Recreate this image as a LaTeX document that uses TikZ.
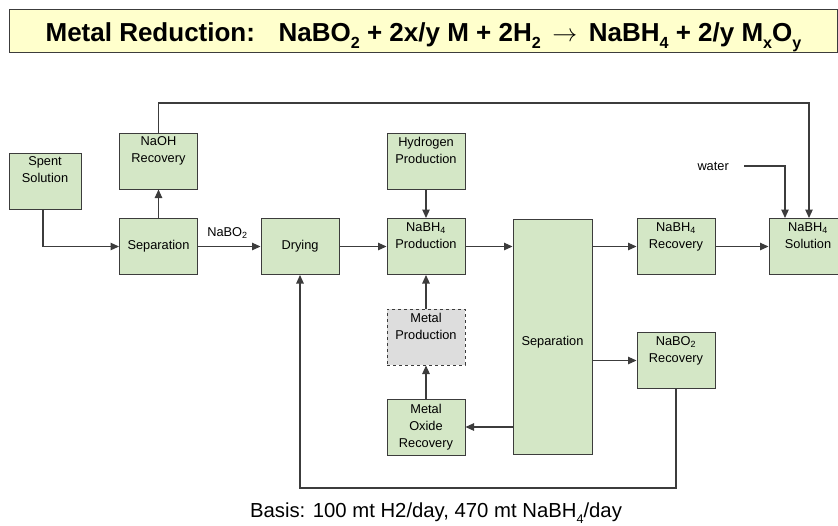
\documentclass[tikz,border=0pt]{standalone}
\usepackage{fontspec}
\setmainfont{Liberation Sans}
\usetikzlibrary{arrows.meta}
\definecolor{boxgreen}{RGB}{212,231,198}
\definecolor{boxgray}{RGB}{221,221,221}
\definecolor{titleyellow}{RGB}{255,255,204}
\definecolor{linegray}{RGB}{60,60,60}
\newcommand{\lowsub}[1]{\raisebox{-0.28em}{\fontsize{0.62em}{1em}\selectfont #1}}
\tikzset{
  proc/.style={draw=linegray, fill=boxgreen, line width=1pt, minimum width=78pt,
    minimum height=56pt, inner sep=0pt, align=center,
    font=\fontsize{12.8}{17}\selectfont},
  dashproc/.style={proc, fill=boxgray, dashed},
  arr/.style={draw=linegray, line width=1.1pt, -{Triangle[length=8.5pt,width=7.5pt]}},
  lbl/.style={inner sep=0pt, font=\fontsize{12.8}{17}\selectfont},
}
\begin{document}
\begin{tikzpicture}[x=1pt,y=-1pt]
\useasboundingbox (0,0) rectangle (838,525);
% title
\node[draw=linegray, fill=titleyellow, line width=1pt, minimum width=828pt, minimum height=43pt, inner sep=0pt] (titlebox) at (423,30.5) {};
\node[anchor=base, inner sep=0pt, font=\fontsize{26}{30}\selectfont\bfseries] (title) at (423.5,41)
  {Metal Reduction:\hspace{14pt} NaBO\lowsub{2} + 2x/y M + 2H\lowsub{2} \,$\rightarrow$\, NaBH\lowsub{4} + 2/y M\lowsub{x}O\lowsub{y}};
% boxes
\node[proc, minimum width=72pt] (spent) at (45,181) {Spent\\Solution\\\strut};
\node[proc] (naoh) at (158.5,161) {NaOH\\Recovery\\\strut};
\node[proc] (sep1) at (158.5,246.5) {Separation};
\node[proc] (dry) at (300,246.5) {Drying};
\node[proc] (hyd) at (426,161) {Hydrogen\\Production\\\strut};
\node[proc] (prod) at (426,246.5) {NaBH\textsubscript{4}\\Production\\\strut};
\node[dashproc] (mprod) at (426,337) {Metal\\Production\\\strut};
\node[proc] (mox) at (426,427) {Metal\\Oxide\\Recovery};
\node[proc, minimum width=79pt, minimum height=235pt] (sep2) at (552.5,336.5) {};
\node[lbl] (sep2t) at (552.5,342) {Separation};
\node[proc] (rec) at (676,246.5) {NaBH\textsubscript{4}\\Recovery\\\strut};
\node[proc] (nabo2) at (676,360.5) {NaBO\textsubscript{2}\\Recovery\\\strut};
\node[proc] (sol) at (808,246.5) {NaBH\textsubscript{4}\\Solution\\\strut};
% labels
\node[lbl] (nabolbl) at (227.5,233) {NaBO\textsubscript{2}};
\node[lbl, anchor=east] (water) at (729,166) {water};
\node[anchor=base, inner sep=0pt, font=\fontsize{20.3}{24}\selectfont] (basis) at (436,517.5)
  {Basis: 100 mt H2/day, 470 mt NaBH\lowsub{4}/day};
% coordinates
\coordinate (topR) at (809,103);
\coordinate (ws) at (744,166);
\coordinate (wx) at (785,166);
\coordinate (botY) at (0,488);
% connectors
\draw[arr] (spent.south -| 43,0) |- (sep1.west);
\draw[arr] (sep1.north) -- (naoh.south);
\draw[arr] (naoh.north) |- (topR) -- (topR |- sol.north);
\draw[arr] (ws) -- (wx) -- (wx |- sol.north);
\draw[arr] (sep1.east) -- (dry.west);
\draw[arr] (dry.east) -- (prod.west);
\draw[arr] (hyd.south) -- (prod.north);
\draw[arr] (mprod.north) -- (prod.south);
\draw[arr] (mox.north) -- (mprod.south);
\draw[arr] (prod.east) -- (prod.east -| sep2.west);
\draw[arr] (rec.west -| sep2.east) -- (rec.west);
\draw[arr] (rec.east) -- (sol.west);
\draw[arr] (nabo2.west -| sep2.east) -- (nabo2.west);
\draw[arr] (sep2.west |- mox.east) -- (mox.east);
\draw[arr] (nabo2.south) -- (nabo2.south |- botY) -| (dry.south);
\end{tikzpicture}
\end{document}
